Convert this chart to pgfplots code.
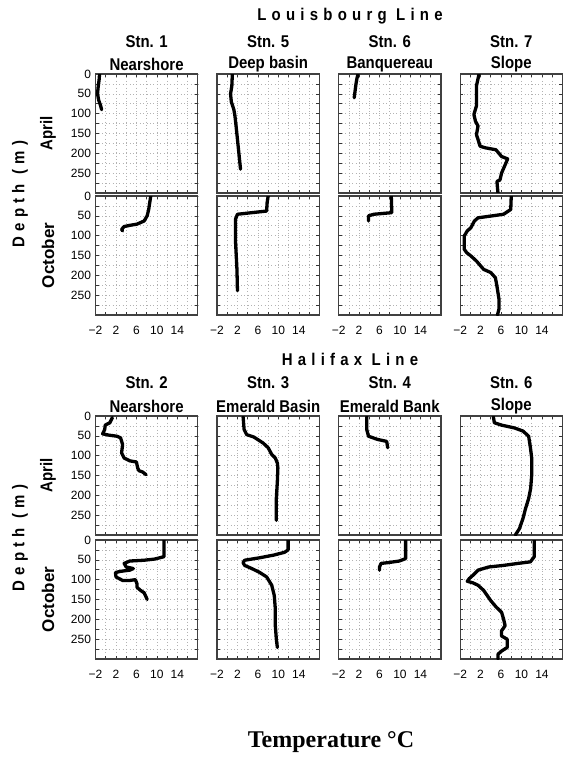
\documentclass[border=0pt]{standalone}
\usepackage{pgfplots}
\pgfplotsset{compat=1.18}
\usepackage{fontspec}
\usepackage{graphicx}
\setmainfont{Liberation Sans}
\newfontfamily\serifbold{Liberation Serif}
\newfontfamily\spaced[LetterSpace=35]{Liberation Sans}
\newcommand{\ttl}[1]{\scalebox{0.88}[1]{\fontsize{17}{17}\selectfont\bfseries #1}}
\newcommand{\sttl}[1]{\scalebox{0.88}[1]{\fontsize{17}{17}\selectfont\spaced\bfseries #1}}
\pgfplotsset{
  prof/.style={
    scale only axis, width=102.3pt, height=119pt, anchor=north west,
    xmin=-2, xmax=18, ymin=0, ymax=300, y dir=reverse,
    xtick={-2,2,6,10,14}, minor xtick={0,4,8,12,16},
    ytick={0,50,...,250}, minor ytick={25,75,...,275},
    grid=both,
    major grid style={gray!60, line width=0.6pt, dash pattern=on 0.6pt off 2.8pt},
    minor grid style={gray!60, line width=0.6pt, dash pattern=on 0.6pt off 2.8pt},
    tick align=inside, major tick length=3pt, minor tick length=3pt,
    tick style={black!80, line width=0.6pt},
    axis line style={black!75, line width=1.2pt},
    xticklabels={}, yticklabels={},
    tick label style={font=\fontsize{12}{12}\selectfont},
    /pgf/number format/assume math mode=true,
  },
  pl/.style={black, line width=3.3pt, line join=round, line cap=round, mark=none},
  ylab/.style={yticklabels={0,50,100,150,200,250}, yticklabel style={xshift=-1pt}},
  xlab/.style={xticklabels={−2,2,6,10,14}, xticklabel style={yshift=-8pt}},
}
\begin{document}
\begin{tikzpicture}
\path[use as bounding box] (0pt,0pt) rectangle (563pt,-765pt);
% ---------- Louisbourg April ----------
\begin{axis}[prof, ylab, at={(95.5pt,-74pt)}]
\addplot[pl] coordinates {(-1.2,0)(-1.3,15)(-1.5,35)(-1.6,50)(-1.4,65)(-1.0,80)(-0.8,90)};
\end{axis}
\begin{axis}[prof, at={(217pt,-74pt)}]
\addplot[pl] coordinates {(1.0,0)(0.9,30)(0.65,50)(0.8,70)(1.3,90)(1.5,105)(1.8,140)(2.2,190)(2.6,240)};
\end{axis}
\begin{axis}[prof, at={(338.6pt,-74pt)}]
\addplot[pl] coordinates {(1.8,0)(1.6,10)(1.4,25)(1.2,45)(1.05,60)};
\end{axis}
\begin{axis}[prof, at={(460.1pt,-74pt)}]
\addplot[pl] coordinates {(1.7,0)(1.2,30)(1.2,80)(0.7,102)(1.0,119)(1.5,131)(1.2,153)(1.5,165)(1.9,182)(2.9,186)(5.0,191)(6.1,208)(7.3,214)(6.8,229)(6.1,250)(5.8,267)(5.2,271)(5.4,300)};
\end{axis}
% ---------- Louisbourg October ----------
\begin{axis}[prof, ylab, xlab, at={(95.5pt,-196pt)}]
\addplot[pl] coordinates {(8.8,0)(8.6,17)(8.4,34)(8.1,50)(7.5,63)(6.1,71)(4.7,74)(3.6,77)(3.1,84)(3.3,88)};
\end{axis}
\begin{axis}[prof, xlab, at={(217pt,-196pt)}]
\addplot[pl] coordinates {(8.0,0)(7.8,17)(7.7,38)(4.8,42)(2.0,46)(1.6,59)(1.6,109)(1.9,185)(2.0,239)};
\end{axis}
\begin{axis}[prof, xlab, at={(338.6pt,-196pt)}]
\addplot[pl] coordinates {(8.3,0)(8.4,42)(4.9,46)(3.85,50)(3.85,63)};
\end{axis}
\begin{axis}[prof, xlab, at={(460.1pt,-196pt)}]
\addplot[pl] coordinates {(8.0,0)(7.9,34)(6.5,46)(4.3,50)(1.5,55)(0.8,63)(0.1,80)(-0.6,88)(-1.2,101)(-1.2,134)(-0.7,143)(0.1,151)(1.2,164)(2.6,185)(4.0,193)(4.9,206)(5.2,227)(5.6,260)(5.6,285)(5.3,300)};
\end{axis}
% ---------- Halifax April ----------
\begin{axis}[prof, ylab, at={(95.5pt,-416pt)}]
\addplot[pl] coordinates {(1.3,4)(0.8,17)(-0.1,23)(-0.2,34)(-0.6,45)(0.5,48)(2.2,51)(2.9,55)(3.3,72)(3.1,93)(3.6,106)(4.7,113)(6.0,116)(6.25,131)(6.5,138)(7.2,141)(7.9,148)};
\end{axis}
\begin{axis}[prof, at={(217pt,-416pt)}]
\addplot[pl] coordinates {(3.1,2)(3.3,34)(3.8,47)(5.2,53)(7.0,68)(8.0,80)(8.7,97)(9.4,106)(9.8,119)(9.9,131)(9.8,165)(9.6,208)(9.6,263)};
\end{axis}
\begin{axis}[prof, at={(338.6pt,-416pt)}]
\addplot[pl] coordinates {(3.5,2)(3.5,34)(3.85,51)(5.6,59)(7.4,64)(7.6,80)};
\end{axis}
\begin{axis}[prof, at={(460.1pt,-416pt)}]
\addplot[pl] coordinates {(4.5,2)(4.7,17)(6.1,23)(8.6,30)(10.3,38)(11.4,51)(11.75,80)(12.0,106)(12.0,148)(11.8,182)(11.4,208)(10.8,233)(10.3,258)(9.6,284)(8.8,300)};
\end{axis}
% ---------- Halifax October ----------
\begin{axis}[prof, ylab, xlab, at={(95.5pt,-540pt)}]
\addplot[pl] coordinates {(11.4,0)(11.4,42)(9.6,48)(7.5,51)(4.7,53)(3.6,59)(4.0,68)(5.4,72)(4.7,76)(2.9,79)(1.9,82)(2.0,93)(3.3,102)(4.7,102)(5.8,100)(6.1,110)(6.1,119)(6.8,127)(7.5,133)(7.9,144)(8.1,150)};
\end{axis}
\begin{axis}[prof, xlab, at={(217pt,-540pt)}]
\addplot[pl] coordinates {(11.9,0)(11.9,25)(11.2,31)(9.1,38)(6.25,45)(3.4,51)(3.1,57)(3.4,64)(4.8,72)(6.25,81)(7.7,93)(8.7,114)(9.2,140)(9.4,174)(9.4,216)(9.6,250)(9.8,271)};
\end{axis}
\begin{axis}[prof, xlab, at={(338.6pt,-540pt)}]
\addplot[pl] coordinates {(11.1,0)(11.1,47)(9.85,53)(7.7,57)(6.3,59)(6.0,68)(6.0,76)};
\end{axis}
\begin{axis}[prof, xlab, at={(460.1pt,-540pt)}]
\addplot[pl] coordinates {(12.5,0)(12.5,42)(11.75,55)(9.3,59)(6.5,64)(3.6,68)(1.5,76)(0.5,89)(-0.2,97)(-0.6,104)(0.5,108)(1.5,114)(2.6,127)(3.3,140)(4.0,153)(5.05,169)(6.1,182)(6.5,199)(6.8,216)(6.1,229)(6.1,242)(7.2,250)(7.2,271)(6.1,280)(5.4,288)(5.4,300)};
\end{axis}
% ---------- texts ----------
\node at (350pt,-16pt) {\sttl{Louisbourg Line}};
\node at (146.6pt,-41.5pt) {\ttl{Stn. 1}};
\node at (268.2pt,-41.5pt) {\ttl{Stn. 5}};
\node at (389.8pt,-41.5pt) {\ttl{Stn. 6}};
\node at (511.3pt,-41.5pt) {\ttl{Stn. 7}};
\node at (146.6pt,-64pt) {\ttl{Nearshore}};
\node at (268.2pt,-64pt) {\ttl{Deep basin}};
\node at (389.8pt,-64pt) {\ttl{Banquereau}};
\node at (511.3pt,-64pt) {\ttl{Slope}};
\node at (350pt,-359pt) {\sttl{Halifax Line}};
\node at (146.6pt,-383pt) {\ttl{Stn. 2}};
\node at (268.2pt,-383pt) {\ttl{Stn. 3}};
\node at (389.8pt,-383pt) {\ttl{Stn. 4}};
\node at (511.3pt,-383pt) {\ttl{Stn. 6}};
\node at (146.6pt,-406pt) {\ttl{Nearshore}};
\node at (268.2pt,-406pt) {\ttl{Emerald Basin}};
\node at (389.8pt,-406pt) {\ttl{Emerald Bank}};
\node at (511.3pt,-406pt) {\ttl{Slope}};
\node[rotate=90] at (48pt,-133.5pt) {\ttl{April}};
\node[rotate=90] at (48pt,-255.5pt) {\fontsize{17}{17}\selectfont\bfseries October};
\node[rotate=90] at (48pt,-475.5pt) {\ttl{April}};
\node[rotate=90] at (48pt,-599.5pt) {\fontsize{17}{17}\selectfont\bfseries October};
\node[rotate=90] at (20pt,-194pt) {\sttl{Depth (m)}};
\node[rotate=90] at (20pt,-538pt) {\sttl{Depth (m)}};
\node at (331pt,-742pt) {\fontsize{24}{24}\selectfont\serifbold\bfseries Temperature °C};
\end{tikzpicture}
\end{document}
